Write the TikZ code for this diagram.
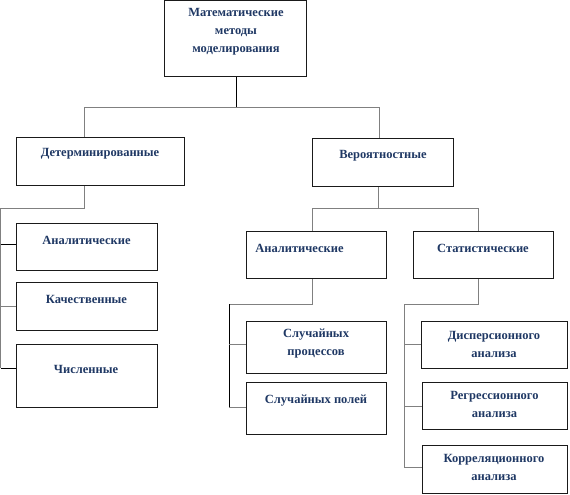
\documentclass[tikz,border=0pt]{standalone}
\usepackage{fontspec}
\setmainfont{Liberation Serif}
\definecolor{txtblue}{HTML}{1F3864}
\definecolor{lgray}{HTML}{808080}
\definecolor{bord}{HTML}{1A1A1A}
\begin{document}
\begin{tikzpicture}[x=1pt,y=-1pt,
  box/.style={draw=bord,line width=1pt,rectangle,inner sep=0pt,anchor=north west},
  lbl/.style={font=\fontsize{12.5}{18}\selectfont\bfseries,text=txtblue,align=center,inner sep=0pt},
  connB/.style={draw=black,line width=0.9pt},
  connG/.style={draw=lgray,line width=0.9pt}]
\useasboundingbox (0,0) rectangle (570,495);
% boxes
\node[box,minimum width=142pt,minimum height=75.5pt] (top) at (164,0.5) {};
\node[box,minimum width=168pt,minimum height=48pt] (determ) at (16,137) {};
\node[box,minimum width=141pt,minimum height=48pt] (verojat) at (312,138) {};
\node[box,minimum width=141pt,minimum height=47pt] (anL) at (16,223) {};
\node[box,minimum width=141pt,minimum height=48pt] (kach) at (16,282) {};
\node[box,minimum width=141pt,minimum height=63pt] (chisl) at (16,344) {};
\node[box,minimum width=140pt,minimum height=47pt] (anR) at (246,231) {};
\node[box,minimum width=140pt,minimum height=47pt] (stat) at (413,231) {};
\node[box,minimum width=140pt,minimum height=52pt] (sp) at (246,321) {};
\node[box,minimum width=140pt,minimum height=52pt] (spol) at (246,382) {};
\node[box,minimum width=146pt,minimum height=47pt] (disp) at (421,321) {};
\node[box,minimum width=145pt,minimum height=47pt] (regr) at (422,382) {};
\node[box,minimum width=145pt,minimum height=48pt] (korr) at (422,445) {};
% labels
\node[lbl] (tTop) at (236,32) {Математические\\методы\\моделирования};
\node[lbl] (tDeterm) at (100,154) {Детерминированные};
\node[lbl] (tVerojat) at (383,156) {Вероятностные};
\node[lbl] (tAnL) at (86.5,240) {Аналитические};
\node[lbl] (tKach) at (86.5,299) {Качественные};
\node[lbl] (tChisl) at (86,369) {Численные};
\node[lbl] (tAnR) at (299.5,248) {Аналитические};
\node[lbl] (tStat) at (483,248) {Статистические};
\node[lbl] (tSp) at (316,344) {Случайных\\процессов};
\node[lbl] (tSpol) at (316,401) {Случайных полей};
\node[lbl] (tDisp) at (494,344) {Дисперсионного\\анализа};
\node[lbl] (tRegr) at (494.5,404) {Регрессионного\\анализа};
\node[lbl] (tKorr) at (494,467.5) {Корреляционного\\анализа};
% junction coordinates
\coordinate (jT) at (236,107);
\coordinate (jDL) at (84,107);
\coordinate (jVR) at (379,107);
\coordinate (sL) at (0.7,208);
\coordinate (sLe) at (0.7,368);
\coordinate (jVd) at (378,208);
\coordinate (jAR) at (312,208);
\coordinate (jSR) at (478,208);
\coordinate (sM) at (229,304);
\coordinate (sMe) at (229,407);
\coordinate (sR) at (404,304);
\coordinate (sRe) at (404,467);
% connectors
\draw[connB] (jT |- top.south) -- (jT);
\draw[connG] (jDL) -- (jVR);
\draw[connG] (jDL) -- (jDL |- determ.north);
\draw[connG] (jVR) -- (jVR |- verojat.north);
\draw[connG] (jDL |- determ.south) |- (sL) -- (sLe);
\draw[connB] (sL |- tAnL.south) -- (anL.west |- tAnL.south);
\draw[connG] (sL |- kach.west) -- (kach.west);
\draw[connB] (sLe) -- (chisl.west |- sLe);
\draw[connG] (verojat.south -| jVd) -- (jVd);
\draw[connG] (jAR) -- (jSR);
\draw[connG] (jAR) -- (jAR |- anR.north);
\draw[connG] (jSR) -- (jSR |- stat.north);
\draw[connG] (jAR |- anR.south) |- (sM);
\draw[connB] (sM) -- (sMe);
\draw[connG] (sM |- tSp.center) -- (sp.west |- tSp.center);
\draw[connG] (sMe) -- (spol.west |- sMe);
\draw[connG] (jSR |- stat.south) |- (sR) -- (sRe);
\draw[connG] (sR |- tDisp.center) -- (disp.west |- tDisp.center);
\draw[connG] (sR |- regr.west) -- (regr.west);
\draw[connG] (sRe) -- (korr.west |- sRe);
\end{tikzpicture}
\end{document}
